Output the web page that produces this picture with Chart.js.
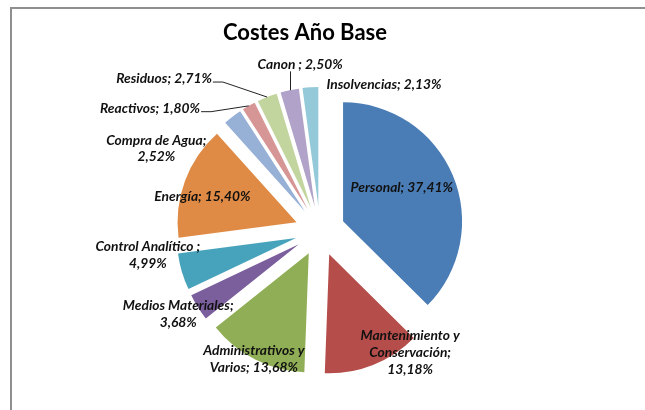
<!DOCTYPE html>
<html>
<head>
<meta charset="utf-8">
<script src="https://cdn.jsdelivr.net/npm/chart.js@4/dist/chart.umd.min.js"></script>
<style>
    html, body { margin: 0; padding: 0; background: #fff; overflow: hidden; }
    #frame {
        position: absolute; left: 10px; top: 7px; width: 700px; height: 500px;
        border-top: 2px solid #8f8f8f; border-left: 2px solid #8f8f8f;
    }
    #costes { position: absolute; left: 0; top: 0; }
</style>
</head>
<body>
<div id="frame"></div>
<canvas id="costes" width="645" height="410"></canvas>
<script>
// ==========================================================================
// Data
// ==========================================================================
const categories = [
    'Personal', 'Mantenimiento y Conservación', 'Administrativos y Varios',
    'Medios Materiales', 'Control Analítico', 'Energía', 'Compra de Agua',
    'Reactivos', 'Residuos', 'Canon', 'Insolvencias'
];
const shares = [37.41, 13.18, 13.68, 3.68, 4.99, 15.40, 2.52, 1.80, 2.71, 2.50, 2.13];

// ==========================================================================
// Styles
// ==========================================================================
const sliceColors = [
    '#4a7cb5', '#b54e4b', '#90ae55', '#7b5f9c', '#47a3bb', '#e08b45',
    '#97b0d6', '#d69695', '#c2d59f', '#b0a2c8', '#94c9da'
];
const EXPLODE = 25;      // px each slice is pulled out
const RADIUS = 119;

// [angle shift from slice middle (deg), distance as share of radius]
const labelPlace = [
    [-5.5, 0.78], [-15.0, 1.27], [0.6, 1.21], [1.7, 1.38], [8.5, 1.46],
    [-3.8, 1.03], [-25.8, 1.54], [-24.6, 1.76], [-24.2, 1.83], [5.4, 1.41], [27.5, 1.34]
];
const labelWrap = [220, 118, 118, 140, 140, 220, 130, 220, 220, 220, 220];
const labelSep = ['', '', '', '', ' ', '', '', '', '', ' ', ''];
const leaderType = [null, null, null, null, null, null, null, 'side', 'side', 'below', null];

const LABEL_FONT = 'italic bold 13.8px Lato, "Open Sans", sans-serif';
const LINE_H = 16.8;

function pct(v) {
    return v.toFixed(2).replace('.', ',') + '%';
}

function wrapText(ctx, text, maxW) {
    const words = text.split(' ');
    const lines = [];
    let line = '';
    words.forEach(w => {
        const test = line ? line + ' ' + w : w;
        if (line && ctx.measureText(test).width > maxW) {
            lines.push(line);
            line = w;
        } else {
            line = test;
        }
    });
    if (line) lines.push(line);
    return lines;
}

// pull every slice out along its middle angle, same distance for all
const explodePlugin = {
    id: 'explode',
    beforeDatasetDraw(chart, args) {
        const ctx = chart.ctx;
        args.meta.data.forEach(arc => {
            const mid = (arc.startAngle + arc.endAngle) / 2;
            ctx.save();
            ctx.translate(Math.cos(mid) * EXPLODE, Math.sin(mid) * EXPLODE);
            arc.draw(ctx);
            ctx.restore();
        });
        return false;
    }
};

// data labels, leader lines and the title
const labelPlugin = {
    id: 'sliceLabels',
    afterDatasetsDraw(chart) {
        const ctx = chart.ctx;
        const arcs = chart.getDatasetMeta(0).data;
        ctx.save();
        ctx.font = LABEL_FONT;
        ctx.fillStyle = '#111';
        ctx.textAlign = 'center';
        ctx.textBaseline = 'middle';
        ctx.strokeStyle = '#222';
        ctx.lineWidth = 1;

        arcs.forEach((arc, i) => {
            const mid = (arc.startAngle + arc.endAngle) / 2;
            const a = mid + labelPlace[i][0] * Math.PI / 180;
            const d = labelPlace[i][1] * arc.outerRadius;
            const x = arc.x + Math.cos(a) * d;
            const y = arc.y + Math.sin(a) * d;

            const text = categories[i] + labelSep[i] + '; ' + pct(shares[i]);
            const lines = wrapText(ctx, text, labelWrap[i]);
            const top = y - (lines.length - 1) * LINE_H / 2;
            lines.forEach((ln, j) => ctx.fillText(ln, x, top + j * LINE_H));

            // outer middle point of the pulled slice
            const px = arc.x + Math.cos(mid) * (EXPLODE + arc.outerRadius);
            const py = arc.y + Math.sin(mid) * (EXPLODE + arc.outerRadius);
            if (leaderType[i] === 'side') {
                const right = x + ctx.measureText(lines[0]).width / 2 + 1;
                ctx.beginPath();
                ctx.moveTo(right, y + 3);
                ctx.lineTo(right + 10, y + 3);
                ctx.lineTo(px, py);
                ctx.stroke();
            } else if (leaderType[i] === 'below') {
                ctx.beginPath();
                ctx.moveTo(Math.round(px) + 0.5, py);
                ctx.lineTo(Math.round(px) + 0.5, y + 7);
                ctx.stroke();
            }
        });

        ctx.font = 'bold 22px Lato, "Open Sans", sans-serif';
        ctx.fillStyle = '#000';
        ctx.fillText('Costes Año Base', 305, 33);
        ctx.restore();
    }
};

new Chart(document.getElementById('costes'), {
    type: 'pie',
    data: {
        labels: categories,
        datasets: [{
            data: shares,
            backgroundColor: sliceColors,
            borderWidth: 0,
            radius: RADIUS
        }]
    },
    options: {
        responsive: false,
        animation: false,
        layout: {
            padding: { top: 52, left: 0, right: 5, bottom: 0 }
        },
        plugins: {
            legend: { display: false },
            title: { display: false },
            tooltip: { enabled: false }
        }
    },
    plugins: [explodePlugin, labelPlugin]
});
</script>
</body>
</html>
